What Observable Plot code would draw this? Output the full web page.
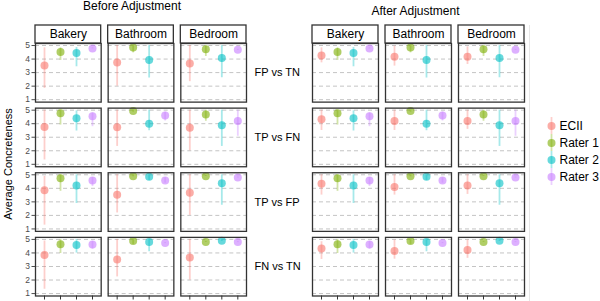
<!DOCTYPE html>
<html><head><meta charset="utf-8">
<script src="https://cdn.jsdelivr.net/npm/d3@7"></script>
<script src="https://cdn.jsdelivr.net/npm/@observablehq/plot@0.6"></script>
<style>
body{margin:0;background:#fff;font-family:"Liberation Sans",Arial,sans-serif;}
#wrap{position:relative;width:600px;height:301px;overflow:hidden;background:#fff;}
.abs{position:absolute;}
.ttl{font-size:12px;line-height:12px;white-space:nowrap;transform:translateX(-50%);color:#000;}
</style></head>
<body><div id="wrap"></div>
<script>
// ---- categories ----
const scenes = ["Bakery", "Bathroom", "Bedroom"];
const comparisons = ["FP vs TN", "TP vs FN", "TP vs FP", "FN vs TN"];
const raters = ["ECII", "Rater 1", "Rater 2", "Rater 3"];
const panels = ["Before Adjustment", "After Adjustment"];
const yTicks = [1, 2, 3, 4, 5];
const colors = ["#F8766D", "#7CAE00", "#00BFC4", "#C77CFF"];

// ---- values: order = comparison x scene (Bakery, Bathroom, Bedroom) ----
const ecciBefore    = [3.53, 3.75, 3.67,  3.76, 3.73, 3.70,  3.85, 3.53, 3.68,  3.84, 3.52, 3.67];
const ecciBeforeLo  = [1.83, 2.00, 2.33,  1.32, 2.32, 2.00,  1.28, 2.18, 2.00,  1.32, 2.23, 2.00];
const ecciBeforeHi  = [4.83, 5.00, 5.00,  5.00, 5.00, 5.00,  4.88, 5.00, 5.00,  4.88, 5.00, 5.00];
const ecciAfter     = [4.26, 4.17, 4.17,  4.33, 4.20, 4.20,  4.33, 4.10, 4.20,  4.33, 4.14, 4.21];
const ecciAfterLo   = [3.72, 3.48, 3.60,  3.50, 3.50, 3.58,  3.50, 3.50, 3.55,  3.52, 3.54, 3.60];
const ecciAfterHi   = [4.83, 4.95, 4.90,  5.00, 5.00, 5.00,  5.00, 5.00, 5.00,  4.83, 4.95, 4.95];
const rater1        = [4.53, 4.85, 4.73,  4.78, 4.93, 4.68,  4.75, 4.90, 4.90,  4.65, 4.88, 4.80];
const rater1Lo      = [3.90, 4.46, 4.19,  3.90, 4.85, 4.18,  3.78, 4.85, 4.88,  3.96, 4.63, 4.78];
const rater1Hi      = [4.83, 5.00, 4.97,  5.00, 5.00, 5.00,  5.00, 5.00, 4.95,  5.00, 5.00, 4.85];
const rater2        = [4.44, 3.94, 4.07,  4.40, 4.00, 3.88,  4.20, 4.85, 4.38,  4.58, 4.80, 4.90];
const rater2Lo      = [3.43, 2.60, 2.62,  3.46, 3.48, 2.32,  2.88, 4.58, 2.75,  3.99, 4.09, 4.85];
const rater2Hi      = [4.85, 5.00, 5.00,  4.95, 5.00, 5.00,  5.00, 5.00, 5.00,  5.00, 5.00, 5.00];
const rater3        = [4.78, null, 4.68,  4.55, 4.60, 4.20,  4.58, 4.58, 4.80,  4.63, 4.73, 4.80];
const rater3Lo      = [4.74, null, 4.64,  3.78, 4.20, 3.07,  4.13, 4.38, 4.76,  4.28, 4.69, 4.76];
const rater3Hi      = [4.84, null, 4.72,  4.80, 4.85, 5.00,  4.80, 4.78, 4.84,  4.85, 4.77, 4.84];

function buildRows(panel) {
  const series = [
    panel === 0 ? [ecciBefore, ecciBeforeLo, ecciBeforeHi] : [ecciAfter, ecciAfterLo, ecciAfterHi],
    [rater1, rater1Lo, rater1Hi],
    [rater2, rater2Lo, rater2Hi],
    [rater3, rater3Lo, rater3Hi]
  ];
  const rows = [];
  comparisons.forEach((comp, ci) => scenes.forEach((scene, si) => {
    const i = ci * 3 + si;
    series.forEach(([m, lo, hi], ri) => {
      if (m[i] == null) return;
      rows.push({comp, scene, rater: raters[ri], mean: m[i], lo: lo[i], hi: hi[i]});
    });
  }));
  return rows;
}

const H = 301, mTop = 43, mBottom = 5.5;
const yDomain = [0.82, 5.15];
const fyPad = 0.093, fxPad = 0.096;
const innerH = H - mTop - mBottom;
const rowBw = innerH / (comparisons.length - fyPad) * (1 - fyPad);
const unitPerPx = (yDomain[1] - yDomain[0]) / rowBw;
const stripLo = yDomain[1], stripHi = yDomain[1] + 18 * unitPerPx, stripMid = yDomain[1] + 9 * unitPerPx;
const stripData = scenes.map(s => ({scene: s, comp: comparisons[0]}));
const font = '"Liberation Sans", Arial, sans-serif';

function chart(panel, opts) {
  const rows = buildRows(panel);
  const marks = [
    Plot.ruleY(yTicks, {y: d => d, stroke: "#c4c4c4", strokeWidth: 1, strokeDasharray: "4,3"}),
    Plot.ruleX(rows, {fx: "scene", fy: "comp", x: "rater", y1: "lo", y2: "hi", stroke: "rater", strokeWidth: 1.8, strokeOpacity: 0.35}),
    Plot.dot(rows, {fx: "scene", fy: "comp", x: "rater", y: "mean", fill: "rater", r: 4, fillOpacity: 0.6}),
    Plot.frame({stroke: "#333", strokeWidth: 1.3}),
    Plot.rect(stripData, {fx: "scene", fy: "comp", y1: () => stripLo, y2: () => stripHi, fill: "white", stroke: "#333", strokeWidth: 1.3}),
    Plot.text(stripData, {fx: "scene", fy: "comp", y: () => stripMid, text: "scene", fontSize: 12, fill: "black"}),
    Plot.axisX({tickSize: 4, tickFormat: () => "", label: null, color: "#333"})
  ];
  if (opts.yAxis) marks.push(Plot.axisY({ticks: yTicks, tickFormat: d3.format("d"), tickSize: 3.5, tickPadding: 2, fontSize: 8.5, label: null, color: "#4d4d4d"}));
  if (opts.fyAxis) marks.push(Plot.axisFy({anchor: "right", tickSize: 0, tickPadding: 8, fontSize: 11, label: null, color: "black"}));
  return Plot.plot({
    width: opts.width, height: H,
    marginLeft: opts.ml, marginRight: opts.mr, marginTop: mTop, marginBottom: mBottom,
    style: {fontFamily: font, background: "transparent", overflow: "visible"},
    fx: {domain: scenes, paddingInner: fxPad, paddingOuter: 0, round: false, axis: null, label: null},
    fy: {domain: comparisons, paddingInner: fyPad, paddingOuter: 0, round: false, axis: null, label: null},
    x: {type: "point", domain: raters, padding: 0.55, axis: null},
    y: {domain: yDomain, axis: null},
    color: {domain: raters, range: colors},
    marks
  });
}

const wrap = document.getElementById("wrap");
function place(el, left, top) { el.classList.add("abs"); el.style.left = left + "px"; el.style.top = top + "px"; wrap.appendChild(el); return el; }

// faint border of the right image
const border = document.createElement("div");
border.style.cssText = "width:0;height:276px;border-left:1px solid #e6e6e6;";
place(border, 529, 25);

place(chart(0, {width: 302, ml: 35, mr: 56, yAxis: true, fyAxis: true}), 0, 0);
place(chart(1, {width: 300, ml: 12, mr: 76, yAxis: false, fyAxis: false}), 300, 0);

// titles
const t1 = document.createElement("div"); t1.className = "ttl"; t1.textContent = panels[0]; place(t1, 132, 0);
const t2 = document.createElement("div"); t2.className = "ttl"; t2.textContent = panels[1]; place(t2, 415.5, 4.8);

// y-axis title
const yt = document.createElement("div");
yt.textContent = "Average Concreteness";
yt.style.cssText = "font-size:11px;line-height:11px;white-space:nowrap;transform:translate(-50%,-50%) rotate(-90deg);color:#000;";
place(yt, 8, 164);

// legend
const legend = Plot.plot({
  width: 62, height: 70, marginLeft: 0, marginRight: 0, marginTop: 0, marginBottom: 0,
  style: {fontFamily: font, background: "transparent", overflow: "visible"},
  x: {domain: [0, 1], range: [11, 60], axis: null},
  y: {type: "band", domain: raters, padding: 0, axis: null},
  color: {domain: raters, range: colors},
  marks: [
    Plot.tickX(raters, {x: () => 0, y: d => d, stroke: d => d, strokeWidth: 1.8, strokeOpacity: 0.35}),
    Plot.dot(raters, {x: () => 0, y: d => d, fill: d => d, r: 4, fillOpacity: 0.6}),
    Plot.text(raters, {x: () => 0, y: d => d, text: d => d, textAnchor: "start", dx: 8, fontSize: 12, fill: "black"})
  ]
});
place(legend, 540, 115.5);
</script></body></html>
